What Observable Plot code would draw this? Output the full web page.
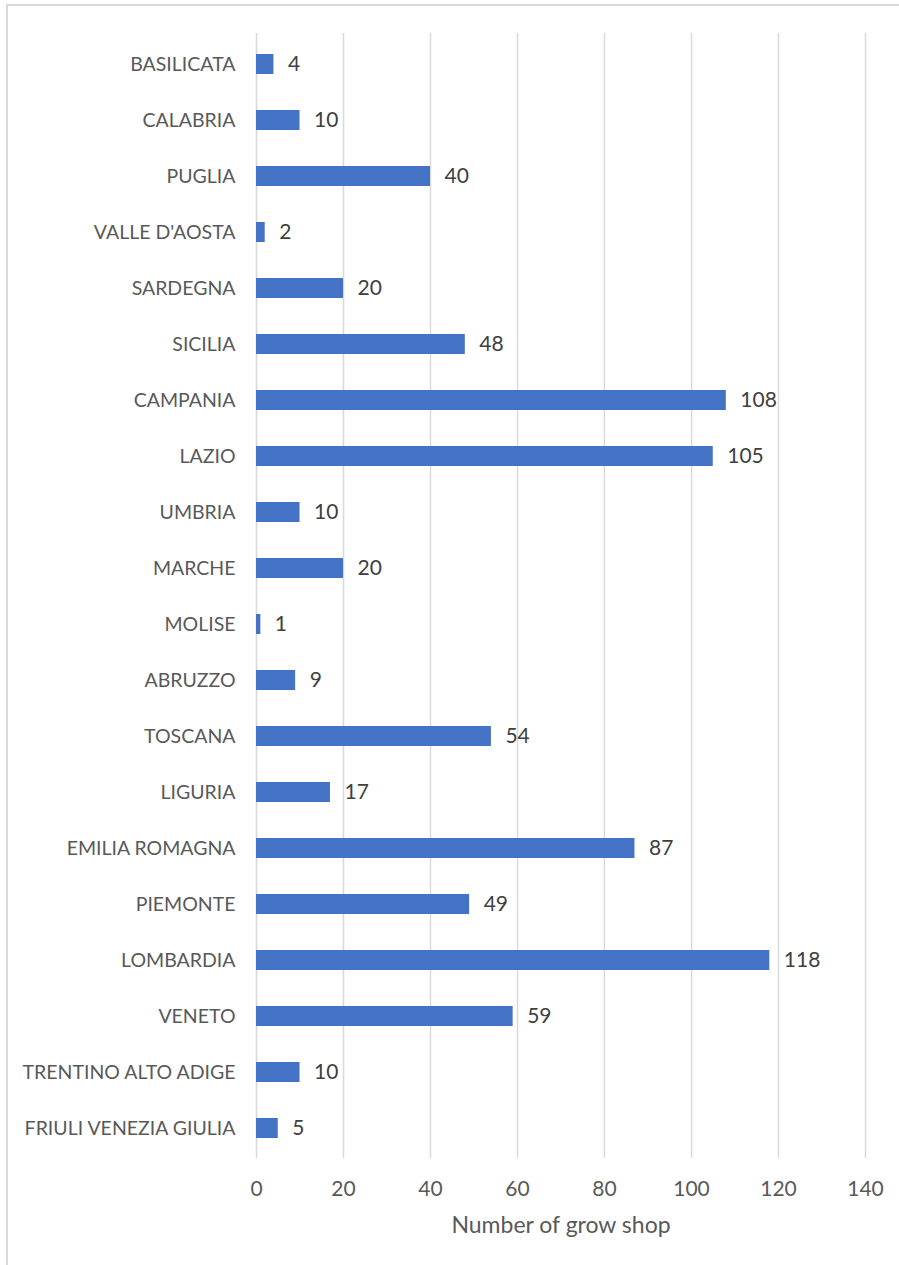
<!DOCTYPE html>
<html>
<head>
<meta charset="utf-8">
<script src="https://cdn.jsdelivr.net/npm/d3@7"></script>
<script src="https://cdn.jsdelivr.net/npm/@observablehq/plot@0.6"></script>
<style>
  html, body { margin: 0; padding: 0; background: #fff; }
  #wrap { position: relative; width: 899px; height: 1265px; overflow: hidden; }
  #frame { position: absolute; left: 6px; top: 4px; width: 900px; height: 1300px;
           border-left: 2px solid #d9d9d9; border-top: 2px solid #d9d9d9; box-sizing: border-box; }
  #chart { position: absolute; left: 0; top: 0; }
  svg { font-family: Lato, "Open Sans", sans-serif; }
</style>
</head>
<body>
<div id="wrap"><div id="frame"></div><div id="chart"></div></div>
<script>
const regions = ["BASILICATA", "CALABRIA", "PUGLIA", "VALLE D'AOSTA", "SARDEGNA", "SICILIA",
  "CAMPANIA", "LAZIO", "UMBRIA", "MARCHE", "MOLISE", "ABRUZZO", "TOSCANA", "LIGURIA",
  "EMILIA ROMAGNA", "PIEMONTE", "LOMBARDIA", "VENETO", "TRENTINO ALTO ADIGE", "FRIULI VENEZIA GIULIA"];
const shops = [4, 10, 40, 2, 20, 48, 108, 105, 10, 20, 1, 9, 54, 17, 87, 49, 118, 59, 10, 5];
const xTicks = [0, 20, 40, 60, 80, 100, 120, 140];
const xTitle = "Number of grow shop";

const data = regions.map((r, i) => ({region: r, value: shops[i]}));

const chart = Plot.plot({
  width: 899,
  height: 1265,
  marginLeft: 256,
  marginRight: 34,
  marginTop: 33,
  marginBottom: 107,
  style: {fontSize: "19.5px", color: "#595959", background: "transparent"},
  x: {domain: [0, 140], ticks: xTicks, tickSize: 0, tickPadding: 23,
      label: xTitle, labelAnchor: "center", labelOffset: 74, labelArrow: "none"},
  y: {domain: regions, paddingInner: 0.644, paddingOuter: 0.322, tickSize: 0, tickPadding: 21, label: null},
  marks: [
    Plot.gridX(xTicks, {stroke: "#d9d9d9", strokeOpacity: 1, strokeWidth: 1.5}),
    Plot.barX(data, {x: "value", y: "region", fill: "#4472C4"}),
    Plot.text(data, {x: "value", y: "region", text: d => String(d.value), textAnchor: "start",
      dx: 14, fill: "#404040", fontSize: 21})
  ]
});
chart.querySelectorAll('[aria-label="x-axis tick label"]').forEach(e => e.setAttribute("font-size", "21"));
chart.querySelectorAll('[aria-label="x-axis label"]').forEach(e => e.setAttribute("font-size", "23"));
document.getElementById("chart").appendChild(chart);
</script>
</body>
</html>
